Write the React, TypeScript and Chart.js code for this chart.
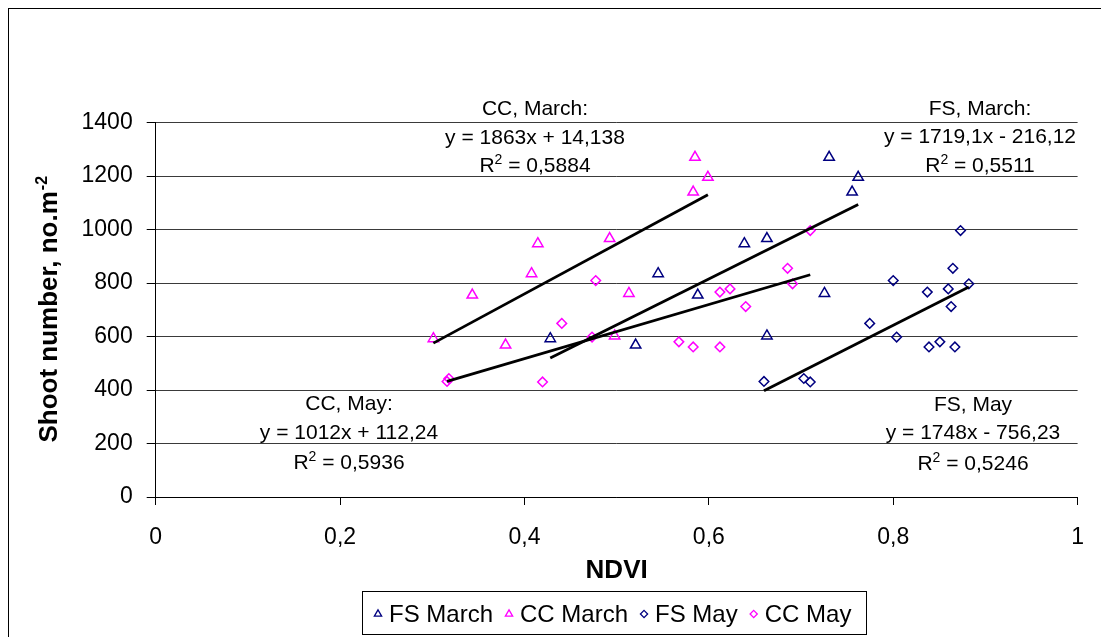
import { useEffect, useRef } from 'react';
import { Chart, registerables } from 'chart.js';

Chart.register(...registerables);

// Shoot numbers (no. per m²) measured at each plot, paired with NDVI readings.
const marchShoots = [1270, 1195, 1140, 966, 947, 835, 761, 755, 602, 592, 568];
const fsMarchNdvi = [0.7305, 0.762, 0.7554, 0.663, 0.6385, 0.545, 0.7254, 0.588, 0.663, 0.428, 0.5206];
const ccMarchNdvi = [0.585, 0.599, 0.583, 0.4924, 0.4145, 0.4077, 0.5133, 0.3434, 0.4978, 0.3012, 0.3795];

const mayShoots = [996, 855, 809, 797, 778, 766, 712, 649, 598, 580, 561, 561, 443, 432, 430];
const fsMayNdvi = [0.873, 0.8647, 0.8, 0.882, 0.8597, 0.837, 0.8628, 0.7745, 0.8037, 0.8506, 0.8388, 0.8669, 0.703, 0.6598, 0.71];
const ccMayNdvi = [0.71, 0.6854, 0.4773, 0.6908, 0.623, 0.612, 0.64, 0.4405, 0.4733, 0.5675, 0.583, 0.612, 0.318, 0.316, 0.4196];

const seriesNames = ['FS March', 'CC March', 'FS May', 'CC May'];

// Linear fits, in the same order as the series.
const fitTitles = ['FS, March:', 'CC, March:', 'FS, May', 'CC, May:'];
const fitSlopes = [1719.1, 1863, 1748, 1012];
const fitIntercepts = [-216.12, 14.138, -756.23, 112.24];
const fitR2 = [0.5511, 0.5884, 0.5246, 0.5936];

const xTicks = [0, 0.2, 0.4, 0.6, 0.8, 1];
const yTicks = [0, 200, 400, 600, 800, 1000, 1200, 1400];

const NAVY = '#000080';
const MAGENTA = '#FF00FF';
const FONT = '"Liberation Sans", Arial, sans-serif';

const seriesColors = [NAVY, MAGENTA, NAVY, MAGENTA];
const seriesStyles = ['triangle', 'triangle', 'rectRot', 'rectRot'];

const dec = (n: number) => String(n).replace('.', ',');

const toPoints = (xs: number[], ys: number[]) => xs.map((x, i) => ({ x, y: ys[i] }));

const seriesPoints = [
  toPoints(fsMarchNdvi, marchShoots),
  toPoints(ccMarchNdvi, marchShoots),
  toPoints(fsMayNdvi, mayShoots),
  toPoints(ccMayNdvi, mayShoots),
];

// Fit line runs across the NDVI range of its own series.
const fitLine = (i: number) => {
  const xs = seriesPoints[i].map((p) => p.x);
  const lo = Math.min(...xs);
  const hi = Math.max(...xs);
  return [lo, hi].map((x) => ({ x, y: fitSlopes[i] * x + fitIntercepts[i] }));
};

// Where each fit's caption block sits (centre x, three line centres).
const captionPos = [
  { x: 971, ys: [99, 127, 156] },
  { x: 526, ys: [99, 127.7, 156] },
  { x: 964, ys: [395, 423, 454] },
  { x: 340, ys: [394, 423, 453] },
];

function drawMarker(ctx: CanvasRenderingContext2D, style: string, x: number, y: number, r: number) {
  ctx.beginPath();
  if (style === 'triangle') {
    ctx.moveTo(x, y - r);
    ctx.lineTo(x + r * 0.866, y + r / 2);
    ctx.lineTo(x - r * 0.866, y + r / 2);
  } else {
    ctx.moveTo(x, y - r);
    ctx.lineTo(x + r, y);
    ctx.lineTo(x, y + r);
    ctx.lineTo(x - r, y);
  }
  ctx.closePath();
  ctx.stroke();
}

const overlay = {
  id: 'overlay',
  afterDraw(chart: any) {
    const { ctx, chartArea } = chart;
    ctx.save();
    ctx.fillStyle = '#000';
    ctx.textBaseline = 'alphabetic';

    // Fit captions
    for (let i = 0; i < fitTitles.length; i++) {
      const pos = captionPos[i];
      ctx.font = `21px ${FONT}`;
      ctx.textAlign = 'center';
      ctx.fillText(fitTitles[i], pos.x, pos.ys[0] + 7.3);
      const b = fitIntercepts[i];
      const eq = `y = ${dec(fitSlopes[i])}x ${b < 0 ? '-' : '+'} ${dec(Math.abs(b))}`;
      ctx.fillText(eq, pos.x, pos.ys[1] + 7.3);

      const rest = ` = ${dec(fitR2[i])}`;
      ctx.textAlign = 'left';
      const wR = ctx.measureText('R').width;
      const wRest = ctx.measureText(rest).width;
      ctx.font = `14px ${FONT}`;
      const wSup = ctx.measureText('2').width;
      const total = wR + wSup + wRest;
      let x = pos.x - total / 2;
      const base = pos.ys[2] + 7.3;
      ctx.font = `21px ${FONT}`;
      ctx.fillText('R', x, base);
      x += wR;
      ctx.font = `14px ${FONT}`;
      ctx.fillText('2', x, base - 8);
      x += wSup;
      ctx.font = `21px ${FONT}`;
      ctx.fillText(rest, x, base);
    }

    // X axis title
    ctx.font = `bold 26px ${FONT}`;
    ctx.textAlign = 'center';
    ctx.fillText('NDVI', (chartArea.left + chartArea.right) / 2, 569);

    // Y axis title with superscript unit exponent
    const main = 'Shoot number, no.m';
    const sup = '-2';
    ctx.font = `bold 26px ${FONT}`;
    const wMain = ctx.measureText(main).width;
    ctx.font = `bold 16px ${FONT}`;
    const wSupY = ctx.measureText(sup).width;
    const tot = wMain + wSupY;
    ctx.save();
    ctx.translate(48.3, (chartArea.top + chartArea.bottom) / 2);
    ctx.rotate(-Math.PI / 2);
    ctx.textAlign = 'left';
    ctx.font = `bold 26px ${FONT}`;
    ctx.fillText(main, -tot / 2, 0);
    ctx.font = `bold 16px ${FONT}`;
    ctx.fillText(sup, -tot / 2 + wMain + 1, -10);
    ctx.restore();

    // Legend
    const lx = 353.5;
    const ly = 582.5;
    const lw = 504;
    const lh = 43;
    ctx.strokeStyle = '#000';
    ctx.lineWidth = 1;
    ctx.strokeRect(lx, ly, lw, lh);
    const cy = ly + lh / 2;
    let x = lx + 15.5;
    ctx.font = `24px ${FONT}`;
    ctx.textAlign = 'left';
    for (let i = 0; i < seriesNames.length; i++) {
      ctx.strokeStyle = seriesColors[i];
      ctx.lineWidth = 1.3;
      drawMarker(ctx, seriesStyles[i], x, cy + 1, seriesStyles[i] === 'triangle' ? 4.2 : 3.6);
      x += 11;
      ctx.fillText(seriesNames[i], x, cy + 8.5);
      x += ctx.measureText(seriesNames[i]).width + 16;
    }
    ctx.restore();
  },
};

export default function App() {
  const ref = useRef<HTMLCanvasElement>(null);

  useEffect(() => {
    const canvas = ref.current;
    if (!canvas) return;

    const scatterSets = seriesPoints.map((pts, i) => ({
      label: seriesNames[i],
      data: pts,
      pointStyle: seriesStyles[i],
      pointRadius: seriesStyles[i] === 'triangle' ? 6 : 4.8,
      pointBorderColor: seriesColors[i],
      pointBackgroundColor: 'rgba(0,0,0,0)',
      pointBorderWidth: 1.5,
      showLine: false,
      order: 1,
    }));

    const fitSets = fitTitles.map((t, i) => ({
      label: t,
      data: fitLine(i),
      showLine: true,
      borderColor: '#000',
      borderWidth: 2.8,
      pointRadius: 0,
      fill: false,
      order: 0,
    }));

    const tickFont = { family: FONT, size: 23 };

    const chart = new Chart(canvas, {
      type: 'scatter',
      data: { datasets: [...scatterSets, ...fitSets] as any },
      options: {
        animation: false,
        responsive: false,
        maintainAspectRatio: false,
        layout: { padding: { left: 0, top: 113.5, right: 23.8, bottom: 0 } },
        plugins: {
          legend: { display: false },
          tooltip: { enabled: false },
        },
        scales: {
          x: {
            type: 'linear',
            min: xTicks[0],
            max: xTicks[xTicks.length - 1],
            afterBuildTicks: (s: any) => {
              s.ticks = xTicks.map((v) => ({ value: v }));
            },
            ticks: {
              font: tickFont,
              color: '#000',
              padding: 19,
              maxRotation: 0,
              autoSkip: false,
              callback: (v: any) => dec(Math.round(Number(v) * 10) / 10),
            },
            grid: { drawOnChartArea: false, drawTicks: true, tickLength: 8, tickColor: '#000' },
            border: { color: '#000', width: 1 },
            afterFit: (s: any) => {
              s.height = 140;
            },
          },
          y: {
            type: 'linear',
            min: yTicks[0],
            max: yTicks[yTicks.length - 1],
            afterBuildTicks: (s: any) => {
              s.ticks = yTicks.map((v) => ({ value: v }));
            },
            ticks: {
              font: tickFont,
              color: '#000',
              padding: 14,
              autoSkip: false,
              callback: (v: any) => String(v),
            },
            grid: { color: '#3a3a3a', tickColor: '#000', tickLength: 9, lineWidth: 1 },
            border: { color: '#000', width: 1 },
            afterFit: (s: any) => {
              s.width = 146.7;
            },
          },
        },
      } as any,
      plugins: [overlay],
    });

    return () => chart.destroy();
  }, []);

  return (
    <div
      style={{
        width: 1094,
        height: 628,
        borderTop: '1px solid #000',
        borderLeft: '1px solid #000',
        borderRight: '1px solid #000',
        background: '#fff',
      }}
    >
      <canvas ref={ref} width={1094} height={628} style={{ display: 'block', width: 1094, height: 628 }} />
    </div>
  );
}
